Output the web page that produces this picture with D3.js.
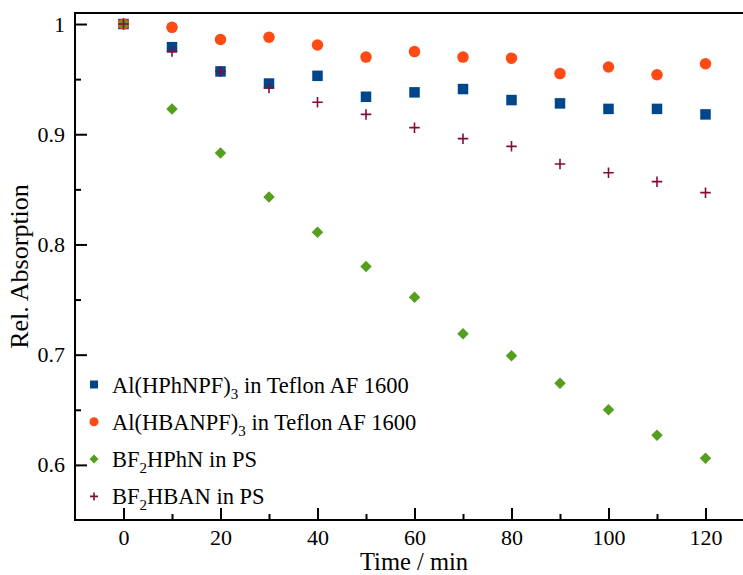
<!DOCTYPE html>
<html>
<head>
<meta charset="utf-8">
<script src="https://cdn.jsdelivr.net/npm/d3@7"></script>
<style>
  html, body { margin: 0; padding: 0; background: #fff; }
  svg { display: block; font-family: "Liberation Serif", "Times New Roman", serif; }
  svg text { font-family: "Liberation Serif", "Times New Roman", serif; }
</style>
</head>
<body>
<svg id="chart" width="743" height="575"></svg>
<script>
// Irradiation time in minutes
const times = [0, 10, 20, 30, 40, 50, 60, 70, 80, 90, 100, 110, 120];

// Relative absorption of each film
const alHPhNPF = [1.000, 0.979, 0.957, 0.946, 0.953, 0.934, 0.938, 0.941, 0.931, 0.928, 0.923, 0.923, 0.918];
const alHBANPF = [1.000, 0.997, 0.986, 0.988, 0.981, 0.970, 0.975, 0.970, 0.969, 0.955, 0.961, 0.954, 0.964];
const bf2HPhN  = [1.000, 0.923, 0.883, 0.843, 0.811, 0.780, 0.752, 0.719, 0.699, 0.674, 0.650, 0.627, 0.606];
const bf2HBAN  = [1.000, 0.975, 0.957, 0.942, 0.929, 0.918, 0.906, 0.896, 0.889, 0.873, 0.865, 0.857, 0.847];

const xMajorTicks = [0, 20, 40, 60, 80, 100, 120];
const xMinorTicks = [10, 30, 50, 70, 90, 110];
const yMajorTicks = [0.6, 0.7, 0.8, 0.9, 1.0];
const yMinorTicks = [0.65, 0.75, 0.85, 0.95];

const series = [
  { name: ["Al(HPhNPF)", "3", " in Teflon AF 1600"], values: alHPhNPF, shape: "square",  color: "#00468b" },
  { name: ["Al(HBANPF)", "3", " in Teflon AF 1600"], values: alHBANPF, shape: "circle",  color: "#ff4a14" },
  { name: ["BF", "2", "HPhN in PS"],                 values: bf2HPhN,  shape: "diamond", color: "#559e1e" },
  { name: ["BF", "2", "HBAN in PS"],                 values: bf2HBAN,  shape: "cross",   color: "#850a3c" }
];

const svg = d3.select("#chart");
const plotLeft = 75, plotRight = 754, plotTop = 13, plotBottom = 520;

const x = d3.scaleLinear().domain([-10, 130]).range([plotLeft, plotRight]);
const y = d3.scaleLinear().domain([0.55, 1.01]).range([plotBottom, plotTop]);

// Frame
svg.append("rect")
  .attr("x", plotLeft).attr("y", plotTop)
  .attr("width", plotRight - plotLeft).attr("height", plotBottom - plotTop)
  .attr("fill", "none").attr("stroke", "#000").attr("stroke-width", 2);

// Axes with inward ticks
const fmtY = d => d === 1 ? "1" : d3.format(".1f")(d);

svg.append("g").attr("transform", `translate(0,${plotBottom})`)
  .call(d3.axisBottom(x).tickValues(xMajorTicks).tickSize(-12).tickSizeOuter(0).tickPadding(9));
svg.append("g").attr("transform", `translate(0,${plotBottom})`)
  .call(d3.axisBottom(x).tickValues(xMinorTicks).tickSize(-6).tickSizeOuter(0).tickFormat(""));

svg.append("g").attr("transform", `translate(${plotLeft},0)`)
  .call(d3.axisLeft(y).tickValues(yMajorTicks).tickSize(-12).tickSizeOuter(0).tickPadding(10).tickFormat(fmtY));
svg.append("g").attr("transform", `translate(${plotLeft},0)`)
  .call(d3.axisLeft(y).tickValues(yMinorTicks).tickSize(-6).tickSizeOuter(0).tickFormat(""));

svg.selectAll(".domain").remove();
svg.selectAll(".tick line").attr("stroke", "#000").attr("stroke-width", 2);
svg.selectAll("g").attr("font-family", null);
svg.selectAll(".tick text").attr("font-size", 22).attr("fill", "#000");

// Axis titles
svg.append("text")
  .attr("x", 414).attr("y", 570)
  .attr("text-anchor", "middle").attr("font-size", 24.5)
  .text("Time / min");

svg.append("text")
  .attr("transform", `translate(28,${(plotTop + plotBottom) / 2}) rotate(-90)`)
  .attr("text-anchor", "middle").attr("font-size", 26)
  .text("Rel. Absorption");

// Marker drawing
function drawMarker(g, shape, color, s) {
  if (shape === "square") {
    g.append("rect").attr("x", -s / 2).attr("y", -s / 2).attr("width", s).attr("height", s).attr("fill", color);
  } else if (shape === "circle") {
    g.append("circle").attr("r", s / 2 + 0.5).attr("fill", color);
  } else if (shape === "diamond") {
    const h = s / 2 + 0.5;
    g.append("path").attr("d", `M0,${-h}L${h},0L0,${h}L${-h},0Z`).attr("fill", color);
  } else if (shape === "cross") {
    const h = s / 2;
    g.append("path").attr("d", `M${-h},0H${h}M0,${-h}V${h}`)
      .attr("stroke", color).attr("stroke-width", 1.6).attr("fill", "none");
  }
}

// Data points
series.forEach(sr => {
  const g = svg.append("g");
  sr.values.forEach((v, i) => {
    const m = g.append("g").attr("transform", `translate(${x(times[i])},${y(v)})`);
    drawMarker(m, sr.shape, sr.color, 10.5);
  });
});

// Legend
const legend = svg.append("g");
series.forEach((sr, i) => {
  const cy = 384.5 + i * 37.3;
  const m = legend.append("g").attr("transform", `translate(94,${cy})`);
  drawMarker(m, sr.shape, sr.color, 8);
  const t = legend.append("text").attr("x", 112).attr("y", cy + 8).attr("font-size", 22.5);
  t.append("tspan").text(sr.name[0]);
  t.append("tspan").attr("font-size", 15).attr("dy", 6).text(sr.name[1]);
  t.append("tspan").attr("dy", -6).text(sr.name[2]);
});
</script>
</body>
</html>
